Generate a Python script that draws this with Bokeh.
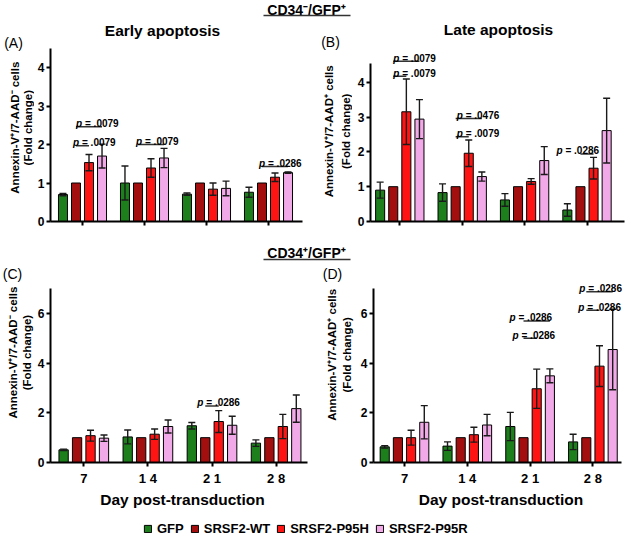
import math
from bokeh.plotting import figure
from bokeh.layouts import column, row
from bokeh.models import Range1d, FixedTicker, ColumnDataSource, Legend, LegendItem
from bokeh.embed import file_html
from bokeh.resources import INLINE
from bokeh.core.properties import value

# ---------------- data ----------------
days = ["7", "14", "21", "28"]
day_tick_labels = ["7", "1 4", "2 1", "2 8"]
series = ["GFP", "SRSF2-WT", "SRSF2-P95H", "SRSF2-P95R"]

# (A) Early apoptosis, CD34-/GFP+
a_gfp = [0.70, 1.00, 0.71, 0.76]
a_gfp_err = [0.03, 0.44, 0.03, 0.13]
a_wt = [1.0, 1.0, 1.0, 1.0]
a_wt_err = [0.0, 0.0, 0.0, 0.0]
a_p95h = [1.53, 1.39, 0.84, 1.15]
a_p95h_err = [0.21, 0.24, 0.16, 0.11]
a_p95r = [1.70, 1.65, 0.86, 1.27]
a_p95r_err = [0.31, 0.25, 0.19, 0.02]
# (group, from series, to series, bracket level, p value)
a_pvals = [(0, 1, 3, 2.46, ".0079"), (0, 1, 2, 1.97, ".0079"),
           (1, 1, 3, 2.00, ".0079"), (3, 1, 3, 1.43, ".0286")]

# (B) Late apoptosis, CD34-/GFP+
b_gfp = [0.90, 0.83, 0.62, 0.33]
b_gfp_err = [0.23, 0.25, 0.18, 0.18]
b_wt = [1.0, 1.0, 1.0, 1.0]
b_wt_err = [0.0, 0.0, 0.0, 0.0]
b_p95h = [3.15, 1.96, 1.15, 1.53]
b_p95h_err = [0.94, 0.38, 0.08, 0.31]
b_p95r = [2.94, 1.29, 1.75, 2.61]
b_p95r_err = [0.56, 0.13, 0.40, 0.93]
b_pvals = [(0, 1, 3, 4.60, ".0079"), (0, 1, 2, 4.17, ".0079"),
           (1, 1, 3, 2.96, ".0476"), (1, 1, 2, 2.43, ".0079"),
           (3, 1, 2, 1.94, ".0286")]

# (C) Early apoptosis, CD34+/GFP+
c_gfp = [0.51, 1.03, 1.48, 0.78]
c_gfp_err = [0.03, 0.28, 0.13, 0.13]
c_wt = [1.0, 1.0, 1.0, 1.0]
c_wt_err = [0.0, 0.0, 0.0, 0.0]
c_p95h = [1.08, 1.14, 1.65, 1.45]
c_p95h_err = [0.22, 0.21, 0.44, 0.49]
c_p95r = [0.98, 1.45, 1.50, 2.17]
c_p95r_err = [0.13, 0.26, 0.36, 0.55]
c_pvals = [(2, 1, 2, 2.28, ".0286")]

# (D) Late apoptosis, CD34+/GFP+
d_gfp = [0.63, 0.66, 1.45, 0.83]
d_gfp_err = [0.05, 0.17, 0.57, 0.31]
d_wt = [1.0, 1.0, 1.0, 1.0]
d_wt_err = [0.0, 0.0, 0.0, 0.0]
d_p95h = [1.00, 1.12, 2.97, 3.88]
d_p95h_err = [0.30, 0.30, 0.79, 0.82]
d_p95r = [1.62, 1.51, 3.49, 4.55]
d_p95r_err = [0.67, 0.43, 0.28, 1.62]
d_pvals = [(2, 1, 3, 5.70, ".0286"), (2, 1, 2, 5.00, ".0286"),
           (3, 1, 3, 6.88, ".0286"), (3, 1, 2, 6.13, ".0286")]

# ---------------- style / layout ----------------
FONT = "Liberation Sans"
colors = ["#1c7f1c", "#a30f0f", "#ff1414", "#f2a9e8"]
bar_offsets = [-0.315, -0.105, 0.105, 0.315]
bar_width = 0.145

# page geometry: figure box (px,py,w,h), frame left/top/right/bottom, group mapping, px per unit,
# x-axis end (px)
GA = dict(px=34, py=20, w=280, h=225, fl=50, ft=20, fr=314, fb=221, c0=82.0, sp=62.0, u=38.5, xa=302)
GB = dict(px=352, py=20, w=276, h=225, fl=370, ft=20, fr=628, fb=222, c0=399.3, sp=62.4, u=35.0, xa=624)
GC = dict(px=34, py=263, w=280, h=257, fl=50, ft=263, fr=314, fb=462, c0=83.3, sp=64.1, u=24.83, xa=307)
GD = dict(px=354, py=263, w=274, h=257, fl=373, ft=263, fr=628, fb=466, c0=404.0, sp=62.8, u=25.33, xa=621)

# text x-shift (px) of each p-value label relative to its bracket start
a_pdx = [0, -3, -2, -3]
b_pdx = [0, 0, 1, 1, -24]
c_pdx = [-8]
d_pdx = [-14, -11, -7, -8]


def to_data(g, X, Y):
    return (X - g["c0"]) / g["sp"], (g["fb"] - Y) / g["u"]


def blank(px, py, w, h):
    f = figure(width=w, height=h, x_range=Range1d(px, px + w), y_range=Range1d(py + h, py),
               output_backend="svg", toolbar_location=None, min_border=0)
    f.axis.visible = False
    f.xgrid.visible = False
    f.ygrid.visible = False
    f.outline_line_color = None
    return f


def side(px, py, w, h, letter, letter_xy, ylab1, ylab_xy):
    f = blank(px, py, w, h)
    f.text(x=[letter_xy[0]], y=[letter_xy[1]], text=[letter], text_font=value(FONT),
           text_font_size="14px", text_align="center", text_baseline="middle",
           text_color="black")
    f.text(x=[xy[0] for xy in ylab_xy], y=[xy[1] for xy in ylab_xy],
           text=[ylab1, "(Fold change)"], angle=math.pi / 2, text_font=value(FONT),
           text_font_style="bold", text_font_size="11.5px", text_align="center",
           text_baseline="middle", text_color="black")
    return f


def make_panel(g, values, errors, axis_top, yticks, pvals, pdx, title=None, title_xy=None,
               bottom=False):
    xs = (g["fl"] - g["c0"]) / g["sp"]
    xe = (g["fr"] - g["c0"]) / g["sp"]
    yend = (g["fb"] - g["ft"]) / g["u"]
    p = figure(width=g["w"], height=g["h"], x_range=Range1d(xs, xe),
               y_range=Range1d(0, yend), output_backend="svg", toolbar_location=None,
               min_border_left=g["fl"] - g["px"],
               min_border_right=g["px"] + g["w"] - g["fr"],
               min_border_top=g["ft"] - g["py"],
               min_border_bottom=g["py"] + g["h"] - g["fb"])
    p.xgrid.visible = False
    p.ygrid.visible = False
    p.outline_line_color = None

    srcs = []
    for si in range(4):
        xpos = [gi + bar_offsets[si] for gi in range(4)]
        vals, errs = values[si], errors[si]
        src = ColumnDataSource(dict(x=xpos, top=vals,
                                    lo=[v - e for v, e in zip(vals, errs)],
                                    hi=[v + e for v, e in zip(vals, errs)]))
        srcs.append((src, errs))
        p.vbar(x="x", top="top", bottom=0, width=bar_width, source=src,
               fill_color=colors[si], line_color="black", line_width=1)
    for src, errs in srcs:
        if max(errs) <= 0:
            continue
        p.segment(x0="x", y0="lo", x1="x", y1="hi", source=src,
                  line_color="#1a1a1a", line_width=1.4)
        p.scatter(x="x", y="hi", source=src, marker="dash", size=7,
                  line_color="#1a1a1a", line_width=1.4)
        p.scatter(x="x", y="lo", source=src, marker="dash", size=7,
                  line_color="#1a1a1a", line_width=1.4)

    bx0, bx1, by, lab, dx1, dx2 = [], [], [], [], [], []
    for (gi, a, b, yv, txt), dx in zip(pvals, pdx):
        bx0.append(gi + bar_offsets[a])
        bx1.append(gi + bar_offsets[b])
        by.append(yv)
        lab.append("= " + txt)
        dx1.append(dx)
        dx2.append(dx + 9)
    psrc = ColumnDataSource(dict(x0=bx0, x1=bx1, y=by, lab=lab, dx1=dx1, dx2=dx2,
                                 pp=["p"] * len(by)))
    p.segment(x0="x0", y0="y", x1="x1", y1="y", source=psrc,
              line_color="#333333", line_width=1.5)
    p.text(x="x0", y="y", text="pp", source=psrc, x_offset="dx1", y_offset=-3,
           text_font=value(FONT), text_font_style="bold italic", text_font_size="10px",
           text_baseline="alphabetic", text_align="left", text_color="black")
    p.text(x="x0", y="y", text="lab", source=psrc, x_offset="dx2", y_offset=-3,
           text_font=value(FONT), text_font_style="bold", text_font_size="10px",
           text_baseline="alphabetic", text_align="left", text_color="black")

    if title:
        tx, ty = to_data(g, *title_xy)
        p.text(x=[tx], y=[ty], text=[title], text_font=value(FONT), text_font_style="bold",
               text_font_size="15.5px", text_align="center", text_baseline="middle",
               text_color="black")

    for ax in (p.xaxis[0], p.yaxis[0]):
        ax.axis_line_width = 2
        ax.axis_line_color = "black"
        ax.major_tick_line_width = 2
        ax.major_tick_line_color = "black"
        ax.major_tick_in = 0
        ax.major_tick_out = 4
        ax.minor_tick_line_color = None
        ax.major_label_text_font = FONT
        ax.major_label_text_font_style = "bold"
        ax.major_label_text_color = "black"
    yax = p.yaxis[0]
    yax.ticker = FixedTicker(ticks=yticks)
    yax.bounds = (0, axis_top)
    yax.major_label_text_font_size = "12px"
    yax.major_label_standoff = 2
    xax = p.xaxis[0]
    xax.ticker = FixedTicker(ticks=[0, 1, 2, 3])
    xax.bounds = (xs, (g["xa"] - g["c0"]) / g["sp"])
    if bottom:
        xax.major_label_overrides = {i: day_tick_labels[i] for i in range(4)}
        xax.major_label_text_font_size = "13px"
        xax.major_label_standoff = 4
        xax.axis_label = "Day post-transduction"
        xax.axis_label_text_font = FONT
        xax.axis_label_text_font_style = "bold"
        xax.axis_label_text_font_size = "15.5px"
        xax.axis_label_standoff = 2
        xax.axis_label_text_color = "black"
    else:
        xax.major_label_overrides = {i: "" for i in range(4)}
        xax.major_label_text_font_size = "1px"
    return p


def header(text, py, h, text_y, line_y):
    f = blank(0, py, 628, h)
    f.text(x=[306], y=[text_y], text=[text], text_font=value(FONT), text_font_style="bold",
           text_font_size="14px", text_align="center", text_baseline="middle",
           text_color="black")
    f.segment(x0=[263], x1=[350], y0=[line_y], y1=[line_y], line_color="#333333",
              line_width=1.5)
    return f


pA = make_panel(GA, [a_gfp, a_wt, a_p95h, a_p95r], [a_gfp_err, a_wt_err, a_p95h_err, a_p95r_err],
                4.5, [0, 1, 2, 3, 4], a_pvals, a_pdx, title="Early apoptosis", title_xy=(162, 30))
pB = make_panel(GB, [b_gfp, b_wt, b_p95h, b_p95r], [b_gfp_err, b_wt_err, b_p95h_err, b_p95r_err],
                4.55, [0, 1, 2, 3, 4], b_pvals, b_pdx, title="Late apoptosis", title_xy=(498, 29))
pC = make_panel(GC, [c_gfp, c_wt, c_p95h, c_p95r], [c_gfp_err, c_wt_err, c_p95h_err, c_p95r_err],
                7.0, [0, 2, 4, 6], c_pvals, c_pdx, bottom=True)
pD = make_panel(GD, [d_gfp, d_wt, d_p95h, d_p95r], [d_gfp_err, d_wt_err, d_p95h_err, d_p95r_err],
                7.0, [0, 2, 4, 6], d_pvals, d_pdx, bottom=True)

sA = side(0, 20, 34, 225, "(A)", (13, 45), "Annexin-V\u207a/7-AAD\u207b cells",
          [(14.5, 140), (27, 140)])
sB = side(314, 20, 38, 225, "(B)", (330, 44), "Annexin-V\u207a/7-AAD\u207a cells",
          [(328, 144), (345, 144)])
sC = side(0, 263, 34, 257, "(C)", (12, 276), "Annexin-V\u207a/7-AAD\u207b cells",
          [(12, 378), (26, 378)])
sD = side(314, 263, 40, 257, "(D)", (332, 277), "Annexin-V\u207a/7-AAD\u207a cells",
          [(331, 381), (346.5, 381)])

h1 = header("CD34\u207b/GFP\u207a", 0, 20, 9, 15)
h2 = header("CD34\u207a/GFP\u207a", 245, 18, 252, 259)

# legend strip
pl = blank(0, 520, 628, 18)
items = []
for s, c in zip(series, colors):
    r = pl.vbar(x=[-100], top=[600], bottom=[590], width=1, fill_color=c,
                line_color="black", line_width=1)
    items.append(LegendItem(label=s, renderers=[r]))
leg = Legend(items=items, orientation="horizontal", location=(143, 2),
             label_text_font=FONT, label_text_font_style="bold",
             label_text_font_size="13px", label_text_color="black",
             glyph_width=9, glyph_height=9, label_standoff=5, spacing=6,
             padding=0, margin=0, border_line_color=None,
             background_fill_alpha=0, label_height=14)
pl.add_layout(leg)

layout = column(h1, row(sA, pA, sB, pB), h2, row(sC, pC, sD, pD), pl)
open("out.html", "w").write(file_html(layout, INLINE, "chart"))
